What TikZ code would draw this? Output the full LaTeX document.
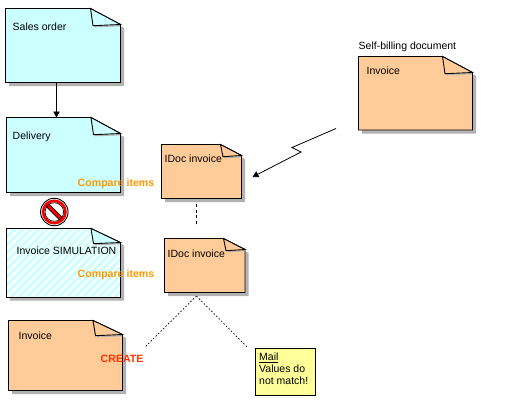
\documentclass[tikz,border=0pt]{standalone}
\usepackage{fontspec}
\setmainfont{Liberation Sans}
\usetikzlibrary{arrows.meta}
\definecolor{cyanfill}{HTML}{CCFFFF}
\definecolor{orangefill}{HTML}{FFCC99}
\definecolor{yellowfill}{HTML}{FFFF99}
\definecolor{shadowgrey}{HTML}{B2B2B2}
\definecolor{cmpcolor}{HTML}{FF9900}
\definecolor{createcolor}{HTML}{FF3300}
\definecolor{signred}{HTML}{F00000}
\tikzset{
  edgeline/.style={draw=black,line width=0.9pt,line join=miter},
  docshadow/.style={fill=shadowgrey,draw=none},
  foldshadow/.style={draw=shadowgrey,line width=1.2pt},
  lbl/.style={font=\fontsize{10.5}{12}\selectfont,inner sep=0pt,anchor=west},
  cmp/.style={font=\fontsize{10.6}{12}\selectfont\bfseries,text=cmpcolor,inner sep=0pt,anchor=west},
  link/.style={line width=0.8pt},
  dashlink/.style={line width=0.8pt,dash pattern=on 3pt off 2.5pt},
  dotlink/.style={line width=0.7pt,dash pattern=on 1.5pt off 2pt},
  tip/.style={-{Triangle[length=6pt,width=6.5pt]}}
}
\newcommand{\docoutline}[6]{(#1,#2) -- (#5,#2) -- (#3,#6) -- (#3,#4) -- (#1,#4) -- cycle}
\newcommand{\foldpart}[7]{%
  \draw[foldshadow] (#5+4,#6+2.2) -- (#3-0.5,#6+1.2);
  \filldraw[edgeline,fill=#7] (#5,#2) -- (#5+2.5,#6+1.2) -- (#3,#6) -- cycle;
}
\newcommand{\docpage}[8]{%
  \fill[docshadow] (#2+3.5,#3+3.5) -- (#6+3.5,#3+3.5) -- (#4+3.5,#7+3.5) -- (#4+3.5,#5+3.5) -- (#2+3.5,#5+3.5) -- cycle;
  \filldraw[edgeline,fill=#8] \docoutline{#2}{#3}{#4}{#5}{#6}{#7};
  \foldpart{#2}{#3}{#4}{#5}{#6}{#7}{#8}
  \path (#2,#3) -- (#4,#5) node[midway,inner sep=0pt,minimum width=#4pt-#2pt,minimum height=#5pt-#3pt] (#1) {};
}
\begin{document}
\begin{tikzpicture}[x=1pt,y=-1pt]
\useasboundingbox (0,0) rectangle (527,407);
\fill[white] (0,0) rectangle (527,407);

\docpage{sales}{5.5}{8.5}{120.5}{82.5}{90.5}{24.5}{cyanfill}
\docpage{delivery}{6.5}{117.5}{120.5}{192.5}{91}{133.5}{cyanfill}
\docpage{idocA}{161.5}{144.5}{241.5}{198.5}{220.5}{155.5}{orangefill}
\docpage{idocB}{164.5}{238.5}{245}{292.5}{223.5}{249.5}{orangefill}
\docpage{selfbill}{358.5}{56.5}{472.5}{130}{442.5}{72.5}{orangefill}
\docpage{invoice}{8.5}{320.5}{122.5}{390.5}{93}{334.5}{orangefill}

% hatched simulation document
\fill[docshadow] (10,231.5) -- (94.5,231.5) -- (124,245.5) -- (124,300.5) -- (10,300.5) -- cycle;
\fill[white] \docoutline{6.5}{228.5}{120.5}{297.5}{91}{242.5};
\begin{scope}
  \clip \docoutline{6.5}{228.5}{120.5}{297.5}{91}{242.5};
  \foreach \k in {-80,-72,...,128} {
    \draw[cyanfill,line width=2.9pt] (\k,300) -- (\k+75,225);
  }
\end{scope}
\draw[edgeline] \docoutline{6.5}{228.5}{120.5}{297.5}{91}{242.5};
\foldpart{6.5}{228.5}{120.5}{297.5}{91}{242.5}{cyanfill}
\path (6.5,228.5) -- (120.5,297.5) node[midway,inner sep=0pt,minimum width=114pt,minimum height=69pt] (sim) {};

% mail note
\node[draw=black,line width=0.9pt,fill=yellowfill,inner sep=0pt,minimum width=59.5pt,minimum height=47pt] (mail) at (285.25,371.5) {};

% no-entry sign
\node[circle,draw=black,line width=0.9pt,fill=white,minimum size=27.5pt,inner sep=0pt] (noentry) at (54.3,212) {};
\draw[black,line width=4.4pt] (46.3,204) -- (62.3,220);
\draw[signred,line width=2.8pt] (45.8,203.5) -- (62.8,220.5);
\draw[black,line width=0.7pt] (noentry.center) circle (9.3pt);
\draw[signred,line width=2.6pt] (noentry.center) circle (11.2pt);

% labels
\node[lbl] (tsales) at (12.5,26.5) {Sales order};
\node[lbl] (tdel) at (12.5,136.5) {Delivery};
\node[lbl] (tidA) at (164.5,158.5) {IDoc invoice};
\node[lbl] (tidB) at (167.5,253.5) {IDoc invoice};
\node[lbl] (tsim) at (16.5,250.5) {Invoice SIMULATION};
\node[lbl] (tinv) at (18.5,335.5) {Invoice};
\node[lbl] (tself) at (358.5,46.5) {Self-billing document};
\node[lbl] (tinvb) at (366.5,70.5) {Invoice};
\node[lbl,align=left,anchor=north west,font=\fontsize{10.5}{12}\selectfont] (tmail) at (259,352.5) {\underline{Mail}\\Values do\\not match!};
\node[cmp] (cmpA) at (77.5,184) {Compare items};
\node[cmp] (cmpB) at (77.5,275) {Compare items};
\node[cmp,text=createcolor] (create) at (100.5,359) {CREATE};

% connectors
\coordinate (salesout) at (56.5,82.5);
\coordinate (delin) at (56.5,117.5);
\draw[link,tip] (salesout) -- (delin);

\coordinate (dashA) at (196.5,204);
\coordinate (dashB) at (196.5,226);
\draw[dashlink] (dashA) -- (dashB);

\coordinate (fork) at (196.5,296);
\coordinate (forkL) at (145,347);
\coordinate (forkR) at (248,348);
\draw[dotlink] (fork) -- (forkL);
\draw[dotlink] (fork) -- (forkR);

\coordinate (zigS) at (336,128.5);
\coordinate (zigA) at (292,147.5);
\coordinate (zigB) at (301,152);
\coordinate (zigE) at (252.5,177);
\draw[link,tip] (zigS) -- (zigA) -- (zigB) -- (zigE);
\end{tikzpicture}
\end{document}
